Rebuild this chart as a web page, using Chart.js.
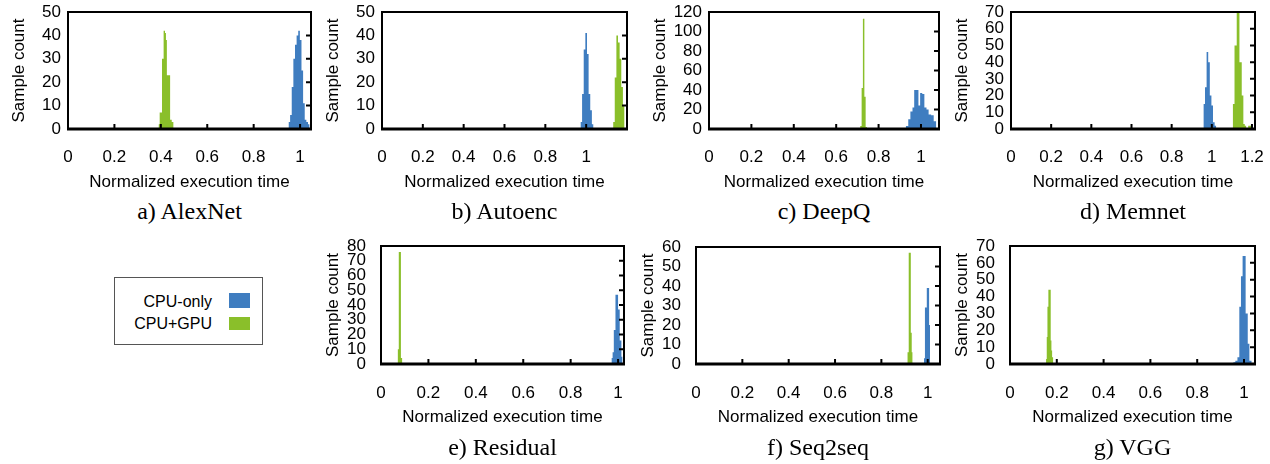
<!DOCTYPE html>
<html>
<head>
<meta charset="utf-8">
<script src="https://cdn.jsdelivr.net/npm/chart.js@4.4.1/dist/chart.umd.min.js"></script>
<style>
  html, body { margin: 0; padding: 0; background: #fff; }
  body { width: 1270px; height: 464px; position: relative; overflow: hidden; }
  canvas.panel { position: absolute; }
  .caption {
    position: absolute; width: 240px; margin-left: -120px; text-align: center;
    font-family: "Liberation Serif", "Times New Roman", serif; font-size: 24px; line-height: 24px;
    white-space: nowrap; color: #000;
  }
  .legend {
    position: absolute; left: 114px; top: 277px; width: 149px; height: 68px;
    border: 1px solid #555; box-sizing: border-box;
    font-family: "Liberation Sans", Arial, sans-serif; font-size: 16px; line-height: 16px; color: #000;
  }
  .legend .lbl { position: absolute; right: 50px; white-space: nowrap; }
  .legend .sw { position: absolute; left: 114px; width: 21px; }
</style>
</head>
<body>
<div class="legend">
  <span class="lbl" style="top:16px">CPU-only</span><span class="sw" style="top:15px;height:15px;background:#3F7DC0"></span>
  <span class="lbl" style="top:38px">CPU+GPU</span><span class="sw" style="top:39px;height:13px;background:#8ABF2A"></span>
</div>
<script>
// colours
const cpuColor = '#3F7DC0';
const gpuColor = '#8ABF2A';

// a) AlexNet
const alexnetTicksX = [0, 0.2, 0.4, 0.6, 0.8, 1];
const alexnetTicksY = [0, 10, 20, 30, 40, 50];
const alexnetCpuEdges = [0.950, 0.957, 0.964, 0.971, 0.978, 0.985, 0.992, 0.999, 1.006, 1.013, 1.020, 1.027, 1.034, 1.041];
const alexnetCpuCounts = [3, 6, 18, 30, 36, 40, 42, 38, 25, 11, 4, 3, 2];
const alexnetGpuEdges = [0.390, 0.395, 0.400, 0.405, 0.412, 0.418, 0.422, 0.426, 0.433, 0.440, 0.447, 0.455];
const alexnetGpuCounts = [2, 7, 7, 30, 42, 41, 38, 23, 23, 4, 3];

// b) Autoenc
const autoencTicksX = [0, 0.2, 0.4, 0.6, 0.8, 1];
const autoencTicksY = [0, 10, 20, 30, 40, 50];
const autoencCpuEdges = [0.972, 0.980, 0.988, 0.996, 1.004, 1.012, 1.020, 1.028, 1.036];
const autoencCpuCounts = [3, 15, 34, 41, 32, 15, 8, 2];
const autoencGpuEdges = [1.132, 1.140, 1.148, 1.156, 1.164, 1.172, 1.180, 1.188];
const autoencGpuCounts = [3, 22, 40, 37, 30, 18, 10];

// c) DeepQ
const deepqTicksX = [0, 0.2, 0.4, 0.6, 0.8, 1];
const deepqTicksY = [0, 20, 40, 60, 80, 100, 120];
const deepqCpuEdges = [0.928, 0.940, 0.950, 0.960, 0.968, 0.978, 0.988, 0.996, 1.006, 1.016, 1.026, 1.036, 1.048, 1.060, 1.072];
const deepqCpuCounts = [3, 10, 18, 22, 40, 40, 24, 37, 36, 22, 20, 15, 14, 8];
const deepqGpuEdges = [0.713, 0.720, 0.726, 0.733, 0.739, 0.745, 0.751, 0.757];
const deepqGpuCounts = [3, 42, 113, 33, 2, 1, 1];

// d) Memnet
const memnetTicksX = [0, 0.2, 0.4, 0.6, 0.8, 1, 1.2];
const memnetTicksY = [0, 10, 20, 30, 40, 50, 60, 70];
const memnetCpuEdges = [0.958, 0.966, 0.974, 0.982, 0.990, 0.998, 1.006, 1.014, 1.022];
const memnetCpuCounts = [15, 25, 46, 40, 20, 14, 4, 2];
const memnetGpuEdges = [1.104, 1.113, 1.118, 1.124, 1.131, 1.1375, 1.143, 1.149, 1.157, 1.164, 1.171, 1.181, 1.189, 1.197];
const memnetGpuCounts = [15, 50, 50, 75, 75, 40, 40, 20, 3, 2, 0, 2, 2];

// e) Residual
const residualTicksX = [0, 0.2, 0.4, 0.6, 0.8, 1];
const residualTicksY = [0, 10, 20, 30, 40, 50, 60, 70, 80];
const residualCpuEdges = [0.972, 0.977, 0.982, 0.989, 0.994, 1.000, 1.007, 1.014, 1.019];
const residualCpuCounts = [4, 8, 23, 47, 47, 37, 16, 5];
const residualGpuEdges = [0.070, 0.075, 0.080, 0.084, 0.090];
const residualGpuCounts = [10, 76, 76, 4];

// f) Seq2seq
const seq2seqTicksX = [0, 0.2, 0.4, 0.6, 0.8, 1];
const seq2seqTicksY = [0, 10, 20, 30, 40, 50, 60];
const seq2seqCpuEdges = [0.984, 0.988, 0.992, 0.996, 1.001, 1.006, 1.010];
const seq2seqCpuCounts = [3, 29, 29, 39, 39, 20];
const seq2seqGpuEdges = [0.912, 0.918, 0.922, 0.927, 0.931, 0.935];
const seq2seqGpuCounts = [6, 57, 57, 16, 6];

// g) VGG
const vggTicksX = [0, 0.2, 0.4, 0.6, 0.8, 1];
const vggTicksY = [0, 10, 20, 30, 40, 50, 60, 70];
const vggCpuEdges = [0.954, 0.963, 0.972, 0.980, 0.987, 0.994, 1.001, 1.007, 1.016, 1.023, 1.033];
const vggCpuCounts = [1, 2, 4, 34, 52, 64, 64, 30, 12, 2];
const vggGpuEdges = [0.154, 0.157, 0.160, 0.164, 0.169, 0.174, 0.177, 0.180, 0.185];
const vggGpuCounts = [3, 16, 34, 44, 44, 14, 8, 4];

// panel layout: plot box in page pixels
const panels = [
  { name: 'a) AlexNet', left: 68, top: 12, right: 311, bottom: 129, xMax: 1.047, row: 1,
    tx: alexnetTicksX, ty: alexnetTicksY, cpu: [alexnetCpuEdges, alexnetCpuCounts], gpu: [alexnetGpuEdges, alexnetGpuCounts] },
  { name: 'b) Autoenc', left: 382, top: 12, right: 627, bottom: 129, xMax: 1.2, row: 1,
    tx: autoencTicksX, ty: autoencTicksY, cpu: [autoencCpuEdges, autoencCpuCounts], gpu: [autoencGpuEdges, autoencGpuCounts] },
  { name: 'c) DeepQ', left: 709, top: 12, right: 939, bottom: 129, xMax: 1.085, row: 1,
    tx: deepqTicksX, ty: deepqTicksY, cpu: [deepqCpuEdges, deepqCpuCounts], gpu: [deepqGpuEdges, deepqGpuCounts] },
  { name: 'd) Memnet', left: 1011, top: 12, right: 1255, bottom: 129, xMax: 1.215, row: 1,
    tx: memnetTicksX, ty: memnetTicksY, cpu: [memnetCpuEdges, memnetCpuCounts], gpu: [memnetGpuEdges, memnetGpuCounts] },
  { name: 'e) Residual', left: 381, top: 246, right: 624, bottom: 364, xMax: 1.025, row: 2,
    tx: residualTicksX, ty: residualTicksY, cpu: [residualCpuEdges, residualCpuCounts], gpu: [residualGpuEdges, residualGpuCounts] },
  { name: 'f) Seq2seq', left: 696, top: 247, right: 940, bottom: 364, xMax: 1.053, row: 2,
    tx: seq2seqTicksX, ty: seq2seqTicksY, cpu: [seq2seqCpuEdges, seq2seqCpuCounts], gpu: [seq2seqGpuEdges, seq2seqGpuCounts] },
  { name: 'g) VGG', left: 1010, top: 246, right: 1255, bottom: 364, xMax: 1.047, row: 2,
    tx: vggTicksX, ty: vggTicksY, cpu: [vggCpuEdges, vggCpuCounts], gpu: [vggGpuEdges, vggGpuCounts] }
];

const Y_AXIS_W = 60;
const X_AXIS_H = 64;
const RIGHT_PAD = 16;
const TOP_PAD = 12;
const axisFont = { family: '"Liberation Sans", Arial, sans-serif', size: 17 };

// histogram outline as step points (bin edge -> count of the bin starting there)
function histPoints(edges, counts) {
  return edges.map((e, i) => ({ x: e, y: i < counts.length ? counts[i] : 0 }));
}

// box frame + inward ticks like the original plots
const framePlugin = {
  id: 'frame',
  afterDraw(chart) {
    const { ctx, chartArea: a, scales: { x, y } } = chart;
    ctx.save();
    ctx.strokeStyle = '#000';
    ctx.lineWidth = 2;
    ctx.strokeRect(a.left, a.top, a.right - a.left, a.bottom - a.top);
    ctx.lineWidth = 3;
    ctx.beginPath();
    ctx.moveTo(a.left - 1, a.bottom);
    ctx.lineTo(a.right + 1, a.bottom);
    ctx.stroke();
    ctx.lineWidth = 2;
    ctx.beginPath();
    x.ticks.forEach(t => {
      const px = x.getPixelForValue(t.value);
      if (px > a.left + 2 && px < a.right - 2) { ctx.moveTo(px, a.bottom); ctx.lineTo(px, a.bottom - 5); }
    });
    y.ticks.forEach(t => {
      const py = y.getPixelForValue(t.value);
      if (py > a.top + 2 && py < a.bottom - 2) { ctx.moveTo(a.right, py); ctx.lineTo(a.right - 5, py); }
    });
    ctx.stroke();
    ctx.restore();
  }
};

panels.forEach(p => {
  const canvas = document.createElement('canvas');
  canvas.className = 'panel';
  const w = (p.right - p.left) + Y_AXIS_W + RIGHT_PAD;
  const h = TOP_PAD + (p.bottom - p.top) + X_AXIS_H;
  canvas.style.left = (p.left - Y_AXIS_W) + 'px';
  canvas.style.top = (p.top - TOP_PAD) + 'px';
  canvas.style.width = w + 'px';
  canvas.style.height = h + 'px';
  canvas.width = w;
  canvas.height = h;
  document.body.appendChild(canvas);

  const row2 = p.row === 2;
  const yMax = p.ty[p.ty.length - 1];

  new Chart(canvas.getContext('2d'), {
    type: 'line',
    data: {
      datasets: [
        { label: 'CPU-only', data: histPoints(p.cpu[0], p.cpu[1]), stepped: true, fill: 'origin',
          backgroundColor: cpuColor, borderWidth: 0, pointRadius: 0 },
        { label: 'CPU+GPU', data: histPoints(p.gpu[0], p.gpu[1]), stepped: true, fill: 'origin',
          backgroundColor: gpuColor, borderWidth: 0, pointRadius: 0 }
      ]
    },
    options: {
      responsive: false,
      animation: false,
      events: [],
      layout: { padding: { left: 0, top: TOP_PAD, right: RIGHT_PAD, bottom: 0 } },
      plugins: { legend: { display: false }, tooltip: { enabled: false } },
      scales: {
        x: {
          type: 'linear', min: 0, max: p.xMax,
          grid: { display: false, drawTicks: false }, border: { display: false },
          afterBuildTicks: s => { s.ticks = p.tx.map(v => ({ value: v })); },
          afterFit: s => { s.height = X_AXIS_H; s.paddingLeft = 0; s.paddingRight = 0; },
          ticks: { color: '#000', font: axisFont, padding: row2 ? 19 : 18, maxRotation: 0, autoSkip: false,
                   callback: v => String(v) },
          title: { display: true, text: 'Normalized execution time', color: '#000', font: axisFont,
                   padding: { top: 0, bottom: 0 } }
        },
        y: {
          type: 'linear', min: 0, max: yMax,
          grid: { display: false, drawTicks: false }, border: { display: false },
          afterBuildTicks: s => { s.ticks = p.ty.map(v => ({ value: v })); },
          afterFit: s => { s.width = Y_AXIS_W; s.paddingTop = 0; s.paddingBottom = 0; },
          ticks: { color: '#000', font: axisFont, padding: row2 ? 15 : 7, autoSkip: false },
          title: { display: true, text: 'Sample count', color: '#000', font: axisFont,
                   padding: { top: row2 ? 2 : 1, bottom: 0 } }
        }
      }
    },
    plugins: [framePlugin]
  });

  const cap = document.createElement('div');
  cap.className = 'caption';
  cap.textContent = p.name;
  cap.style.left = ((p.left + p.right) / 2) + 'px';
  cap.style.top = (row2 ? 435 : 199) + 'px';
  document.body.appendChild(cap);
});
</script>
</body>
</html>
